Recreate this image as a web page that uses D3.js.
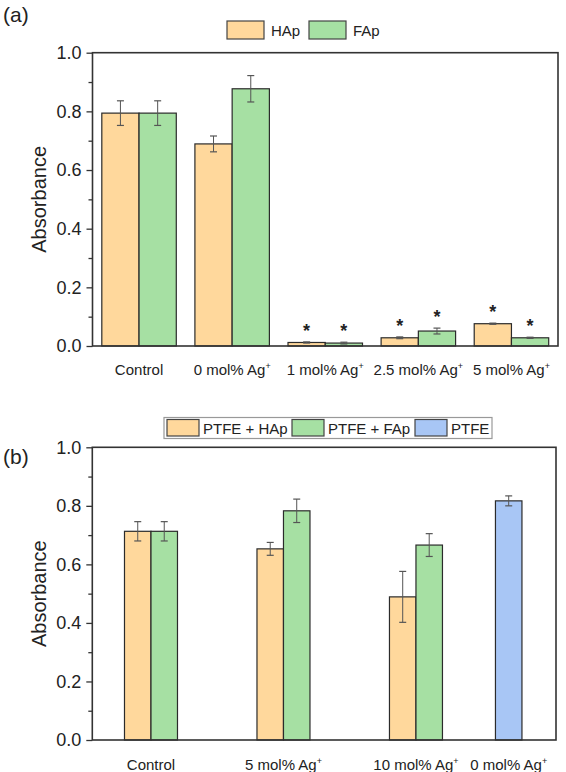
<!DOCTYPE html>
<html>
<head>
<meta charset="utf-8">
<script src="https://cdn.jsdelivr.net/npm/d3@7"></script>
<style>
  html, body { margin: 0; padding: 0; background: #fff; }
  svg { display: block; font-family: Arial, "Liberation Sans", sans-serif; }
</style>
</head>
<body>
<svg id="chart" width="566" height="772"></svg>
<script>
// ---------- Data: panel (a) ----------
const catsA = ["Control", "0 mol% Ag", "1 mol% Ag", "2.5 mol% Ag", "5 mol% Ag"];
const supA = ["", "+", "+", "+", "+"];
const seriesA = ["HAp", "FAp"];
const hapA = [0.794, 0.689, 0.012, 0.028, 0.076];
const hapErrA = [0.042, 0.027, 0.002, 0.003, 0.002];
const fapA = [0.794, 0.877, 0.010, 0.051, 0.028];
const fapErrA = [0.042, 0.045, 0.003, 0.010, 0.002];
const hapSigA = [false, false, true, true, true];
const fapSigA = [false, false, true, true, true];

// ---------- Data: panel (b) ----------
const catsB = ["Control", "5 mol% Ag", "10 mol% Ag", "0 mol% Ag"];
const supB = ["", "+", "+", "+"];
const posB = [1, 2, 3, 3.7];
const seriesB = ["PTFE + HAp", "PTFE + FAp", "PTFE"];
const hapB = [0.713, 0.653, 0.489, null];
const hapErrB = [0.033, 0.022, 0.087, null];
const fapB = [0.713, 0.783, 0.666, null];
const fapErrB = [0.033, 0.040, 0.039, null];
const ptfeB = [null, null, null, 0.817];
const ptfeErrB = [null, null, null, 0.017];

const yTicks = [0, 0.2, 0.4, 0.6, 0.8, 1.0];
const yMinorTicks = [0.1, 0.3, 0.5, 0.7, 0.9];

const colors = { hap: "#FFD89C", fap: "#A6E0A3", ptfe: "#A8C6F5" };
const barStroke = "#2b2b2b";
const errColor = "#555";

const svg = d3.select("#chart");

function drawYAxis(g, y, x0) {
  const major = d3.axisLeft(y).tickValues(yTicks).tickFormat(d3.format(".1f"))
    .tickSize(6).tickPadding(5);
  const minor = d3.axisLeft(y).tickValues(yMinorTicks).tickFormat("").tickSize(4);
  const gm = g.append("g").attr("transform", `translate(${x0},0)`).call(major);
  const gn = g.append("g").attr("transform", `translate(${x0},0)`).call(minor);
  [gm, gn].forEach(a => {
    a.select(".domain").remove();
    a.selectAll("line").attr("stroke", "#333").attr("stroke-width", 1.3);
  });
  gm.selectAll("text").attr("font-size", 18).attr("fill", "#222")
    .attr("font-family", "Arial, 'Liberation Sans', sans-serif");
}

function frame(g, x0, x1, y0, y1) {
  g.append("rect").attr("x", x0).attr("y", y1).attr("width", x1 - x0).attr("height", y0 - y1)
    .attr("fill", "none").attr("stroke", "#333").attr("stroke-width", 1.6);
}

function yLabel(g, x, y) {
  g.append("text").attr("transform", `translate(${x},${y}) rotate(-90)`)
    .attr("text-anchor", "middle").attr("font-size", 20).attr("fill", "#222").text("Absorbance");
}

function catLabel(g, x, y, txt, sup) {
  const t = g.append("text").attr("x", x).attr("y", y).attr("text-anchor", "middle")
    .attr("font-size", 15).attr("fill", "#222");
  t.append("tspan").text(txt);
  if (sup) t.append("tspan").attr("dy", -6).attr("font-size", 9).text(sup);
}

function errBar(g, cx, yv, ye, y) {
  if (yv == null || ye == null) return;
  const top = y(yv + ye), bot = y(yv - ye);
  g.append("line").attr("x1", cx).attr("x2", cx).attr("y1", top).attr("y2", bot)
    .attr("stroke", errColor).attr("stroke-width", 1);
  [top, bot].forEach(v => g.append("line").attr("x1", cx - 3.5).attr("x2", cx + 3.5)
    .attr("y1", v).attr("y2", v).attr("stroke", errColor).attr("stroke-width", 1.2));
}

// ================= Panel (a) =================
{
  const L = 92.5, R = 558, T = 52.7, B = 346;
  const g = svg.append("g");
  const x0 = d3.scaleBand().domain(catsA).range([L, R]).paddingInner(0.2).paddingOuter(0.1);
  const x1 = d3.scaleBand().domain(seriesA).range([0, x0.bandwidth()]).padding(0);
  const y = d3.scaleLinear().domain([0, 1]).range([B, T]);

  const rows = [
    { s: "HAp", v: hapA, e: hapErrA, sig: hapSigA, c: colors.hap },
    { s: "FAp", v: fapA, e: fapErrA, sig: fapSigA, c: colors.fap }
  ];
  rows.forEach(r => {
    catsA.forEach((cat, i) => {
      const bx = x0(cat) + x1(r.s);
      g.append("rect").attr("x", bx).attr("y", y(r.v[i])).attr("width", x1.bandwidth())
        .attr("height", y(0) - y(r.v[i])).attr("fill", r.c)
        .attr("stroke", barStroke).attr("stroke-width", 1.2);
      const cx = bx + x1.bandwidth() / 2;
      errBar(g, cx, r.v[i], r.e[i], y);
      if (r.sig[i]) {
        g.append("text").attr("x", cx).attr("y", y(r.v[i] + r.e[i]) - 5)
          .attr("text-anchor", "middle").attr("font-size", 18).attr("font-weight", "bold")
          .attr("fill", "#222").text("*");
      }
    });
  });

  frame(g, L, R, B, T);
  drawYAxis(g, y, L);
  yLabel(g, 46, (T + B) / 2);
  catsA.forEach((cat, i) => catLabel(g, x0(cat) + x0.bandwidth() / 2, 375, cat, supA[i]));

  // legend
  const lg = g.append("g");
  const items = [
    { s: seriesA[0], c: colors.hap, x: 227 },
    { s: seriesA[1], c: colors.fap, x: 309 }
  ];
  items.forEach(it => {
    lg.append("rect").attr("x", it.x).attr("y", 21).attr("width", 37).attr("height", 18)
      .attr("fill", it.c).attr("stroke", "#444").attr("stroke-width", 1.2);
    lg.append("text").attr("x", it.x + 44).attr("y", 35.5).attr("font-size", 15)
      .attr("fill", "#222").text(it.s);
  });

  svg.append("text").attr("x", 3).attr("y", 22).attr("font-size", 21).attr("fill", "#222").text("(a)");
}

// ================= Panel (b) =================
{
  const L = 92.3, R = 556, T = 447.3, B = 740;
  const g = svg.append("g");
  const x = d3.scaleLinear().domain([0.557, 4.057]).range([L, R]);
  const bw = x(1.2) - x(1.0);
  const y = d3.scaleLinear().domain([0, 1]).range([B, T]);

  const rows = [
    { v: hapB, e: hapErrB, c: colors.hap, off: -1 },
    { v: fapB, e: fapErrB, c: colors.fap, off: 0 },
    { v: ptfeB, e: ptfeErrB, c: colors.ptfe, off: -0.5 }
  ];
  rows.forEach(r => {
    posB.forEach((p, i) => {
      if (r.v[i] == null) return;
      const bx = x(p) + r.off * bw;
      g.append("rect").attr("x", bx).attr("y", y(r.v[i])).attr("width", bw)
        .attr("height", y(0) - y(r.v[i])).attr("fill", r.c)
        .attr("stroke", barStroke).attr("stroke-width", 1.2);
      errBar(g, bx + bw / 2, r.v[i], r.e[i], y);
    });
  });

  frame(g, L, R, B, T);
  drawYAxis(g, y, L);
  yLabel(g, 46, (T + B) / 2);
  catsB.forEach((cat, i) => catLabel(g, x(posB[i]), 770, cat, supB[i]));

  // legend with border
  const lg = g.append("g");
  lg.append("rect").attr("x", 164).attr("y", 417.5).attr("width", 328).attr("height", 21)
    .attr("fill", "#fff").attr("stroke", "#999").attr("stroke-width", 1.2);
  const items = [
    { s: seriesB[0], c: colors.hap, x: 167 },
    { s: seriesB[1], c: colors.fap, x: 292 },
    { s: seriesB[2], c: colors.ptfe, x: 415 }
  ];
  items.forEach(it => {
    lg.append("rect").attr("x", it.x).attr("y", 419.5).attr("width", 32).attr("height", 16.5)
      .attr("fill", it.c).attr("stroke", "#444").attr("stroke-width", 1.2);
    lg.append("text").attr("x", it.x + 36).attr("y", 433.5).attr("font-size", 15)
      .attr("fill", "#222").text(it.s);
  });

  svg.append("text").attr("x", 3).attr("y", 464).attr("font-size", 21).attr("fill", "#222").text("(b)");
}
</script>
</body>
</html>
